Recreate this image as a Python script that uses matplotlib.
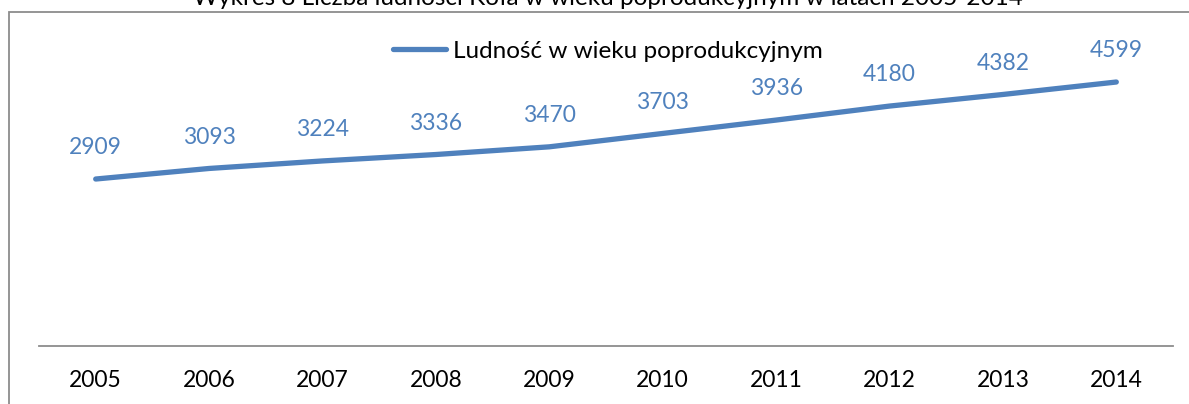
import matplotlib
matplotlib.use("Agg")
import matplotlib.pyplot as plt
from matplotlib.patches import Rectangle

years = ["2005", "2006", "2007", "2008", "2009", "2010", "2011", "2012", "2013", "2014"]
values = [2909, 3093, 3224, 3336, 3470, 3703, 3936, 4180, 4382, 4599]
series_name = "Ludność w wieku poprodukcyjnym"
title = "Wykres 8 Liczba ludności Koła w wieku poprodukcyjnym w latach 2005-2014"

W, H = 1189, 404
plt.rcParams['font.family'] = ['Lato', 'DejaVu Sans']
fig = plt.figure(figsize=(W / 100, H / 100), dpi=100)
fig.patch.set_facecolor("white")

# outer chart frame (extends past right/bottom edges)
fig.add_artist(Rectangle((9 / W, -0.2), 1.5, (H - 12) / H + 0.2, transform=fig.transFigure,
                         fill=False, edgecolor="#8c8c8c", linewidth=1.3))

fig.text(608 / W, (H - 5) / H, title, ha="center", va="baseline", fontsize=17.5, color="#000000")

ax = fig.add_axes([39 / W, 58 / H, (1173 - 39) / W, (346 - 59) / H])
x = list(range(len(years)))
color = "#4F81BD"
line, = ax.plot(x, values, color=color, linewidth=3.8, solid_capstyle="round", label=series_name)
ax.set_xlim(-0.5, len(years) - 0.5)
ax.set_ylim(0, 5000)
for xi, v in zip(x, values):
    ax.annotate(str(v), (xi, v), xytext=(0, 22.5), textcoords="offset points",
                ha="center", va="center", fontsize=16.5, color=color, annotation_clip=False)

ax.set_xticks(x)
ax.set_xticklabels(years, fontsize=16.5)
ax.tick_params(axis="x", length=0, pad=17)
ax.set_yticks([])
for s in ["top", "right", "left"]:
    ax.spines[s].set_visible(False)
ax.spines["bottom"].set_color("#8c8c8c")
ax.spines["bottom"].set_linewidth(1.3)

leg = fig.legend(handles=[line], loc="center left", bbox_to_anchor=(393 / W, (H - 51) / H),
                 frameon=False, fontsize=17.5, handlelength=2.2, handletextpad=0.25,
                 borderaxespad=0, borderpad=0)

fig.savefig("out.png", dpi=100)
